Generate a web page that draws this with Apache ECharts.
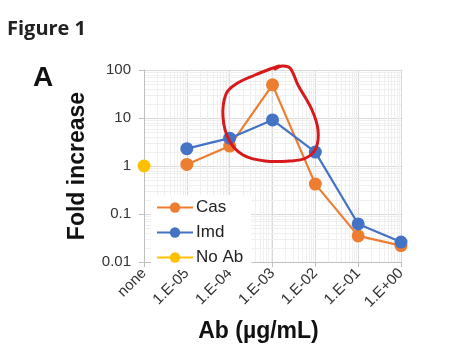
<!DOCTYPE html>
<html>
<head>
<meta charset="utf-8">
<script src="https://cdn.jsdelivr.net/npm/echarts@6/dist/echarts.min.js"></script>
<style>
html,body{margin:0;padding:0;background:#fff;}
#chart{width:457px;height:363px;}
</style>
</head>
<body>
<div id="chart"></div>
<script>
// ---- data ----
var categories = ['none', '1.E-05', '1.E-04', '1.E-03', '1.E-02', '1.E-01', '1.E+00'];
var casValues  = [null, 1.08, 2.6, 49, 0.42, 0.035, 0.022];
var imdValues  = [null, 2.3, 3.8, 9.1, 1.95, 0.062, 0.026];
var noAbValues = [1, null, null, null, null, null, null];
var yTickLabels = ['0.01', '0.1', '1', '10', '100'];

var FONT = '"Liberation Sans", Arial, sans-serif';

function toPairs(vals) {
  var out = [];
  vals.forEach(function (v, i) { if (v !== null) out.push([i, v]); });
  return out;
}

// faint minor grid lines (log-spaced within each interval, like the source)
var minorGrid = [];
for (var i = 0; i < categories.length - 1; i++) {
  for (var k = 2; k <= 9; k++) minorGrid.push([0, i + Math.log10(k)]);
}
for (var d = -2; d < 2; d++) {
  for (var k2 = 2; k2 <= 9; k2++) minorGrid.push([1, k2 * Math.pow(10, d)]);
}

var chart = echarts.init(document.getElementById('chart'), null, { renderer: 'canvas' });
var option = {
  animation: false,
  backgroundColor: '#fff',
  textStyle: { fontFamily: FONT },
  grid: { left: 144, right: 56, top: 70, bottom: 101, containLabel: false },
  legend: {
    data: ['Cas', 'Imd', 'No Ab'],
    orient: 'vertical',
    left: 151,
    top: 195,
    z: 10,
    itemWidth: 36,
    itemHeight: 13,
    itemGap: 8,
    backgroundColor: '#ffffff',
    padding: [4, 8, 4, 5],
    textStyle: { fontSize: 17, color: '#222', fontFamily: FONT, padding: [0, 0, 0, -2] }
  },
  xAxis: {
    type: 'value',
    min: 0, max: 6, interval: 1,
    name: 'Ab (µg/mL)',
    nameLocation: 'middle',
    nameGap: 58,
    nameTextStyle: { fontSize: 23, fontWeight: 'bold', color: '#111', fontFamily: FONT, padding: [0, 28, 0, 0] },
    axisLine: { show: true, lineStyle: { color: '#bfbfbf', width: 1 } },
    axisTick: { show: true, length: 5, lineStyle: { color: '#bfbfbf' } },
    axisLabel: {
      rotate: 45, fontSize: 15, color: '#333', margin: 9, fontFamily: FONT,
      formatter: function (v) { return categories[v]; }
    },
    splitLine: { show: true, lineStyle: { color: '#d9d9d9', width: 1 } }
  },
  yAxis: {
    type: 'log',
    logBase: 10,
    min: 0.01, max: 100,
    name: 'Fold increase',
    nameLocation: 'middle',
    nameGap: 55,
    nameTextStyle: { fontSize: 23, fontWeight: 'bold', color: '#111', fontFamily: FONT },
    axisLine: { show: true, lineStyle: { color: '#bfbfbf', width: 1 } },
    axisTick: { show: true, length: 5, lineStyle: { color: '#bfbfbf' } },
    axisLabel: {
      fontSize: 15, color: '#333', margin: 13, fontFamily: FONT,
      formatter: function (v) {
        var idx = Math.round(Math.log10(v)) + 2;
        return yTickLabels[idx] !== undefined ? yTickLabels[idx] : '';
      }
    },
    splitLine: { show: true, lineStyle: { color: '#d9d9d9', width: 1 } }
  },
  series: [
    {
      name: 'minor-grid',
      type: 'custom',
      silent: true,
      z: 0,
      clip: true,
      encode: { x: -1, y: -1 },
      data: minorGrid,
      renderItem: function (params, api) {
        var kind = api.value(0), v = api.value(1);
        var p1, p2;
        if (kind === 0) { p1 = api.coord([v, 0.01]); p2 = api.coord([v, 100]); }
        else { p1 = api.coord([0, v]); p2 = api.coord([6, v]); }
        return {
          type: 'line',
          shape: { x1: Math.round(p1[0]) + 0.5, y1: Math.round(p1[1]) + 0.5, x2: Math.round(p2[0]) + 0.5, y2: Math.round(p2[1]) + 0.5 },
          style: { stroke: '#efefef', lineWidth: 1 }
        };
      }
    },
    {
      name: 'Cas',
      type: 'line',
      data: toPairs(casValues),
      z: 3,
      symbol: 'circle',
      symbolSize: 13,
      itemStyle: { color: '#ED7D31' },
      lineStyle: { color: '#ED7D31', width: 2.2 }
    },
    {
      name: 'Imd',
      type: 'line',
      data: toPairs(imdValues),
      z: 4,
      symbol: 'circle',
      symbolSize: 13,
      itemStyle: { color: '#4472C4' },
      lineStyle: { color: '#4472C4', width: 2.2 }
    },
    {
      name: 'No Ab',
      type: 'line',
      data: toPairs(noAbValues),
      z: 4,
      symbol: 'circle',
      symbolSize: 13,
      itemStyle: { color: '#FFC000' },
      lineStyle: { color: '#FFC000', width: 2.2 }
    }
  ],
  graphic: [
    {
      type: 'text', left: 7, top: 19,
      style: { text: 'Figure 1', font: 'bold 20px "Open Sans", sans-serif', fill: '#222' }
    },
    {
      type: 'text', left: 33, top: 64,
      style: { text: 'A', font: 'bold 28px "Liberation Sans", Arial, sans-serif', fill: '#111' }
    },
    {
      type: 'polyline',
      z: 100,
      shape: {
        smooth: 0.35,
        points: [[275, 69], [282, 66], [290, 68], [298, 85], [312, 110], [318, 130], [316, 148],
                 [306, 158], [290, 161], [265, 161], [243, 155], [229, 140], [223, 117], [226, 94],
                 [236, 84], [255, 75], [270, 69], [279, 66]]
      },
      style: { stroke: '#d7191c', lineWidth: 3, fill: null, lineCap: 'round', lineJoin: 'round' }
    }
  ]
};
chart.setOption(option);
</script>
</body>
</html>
